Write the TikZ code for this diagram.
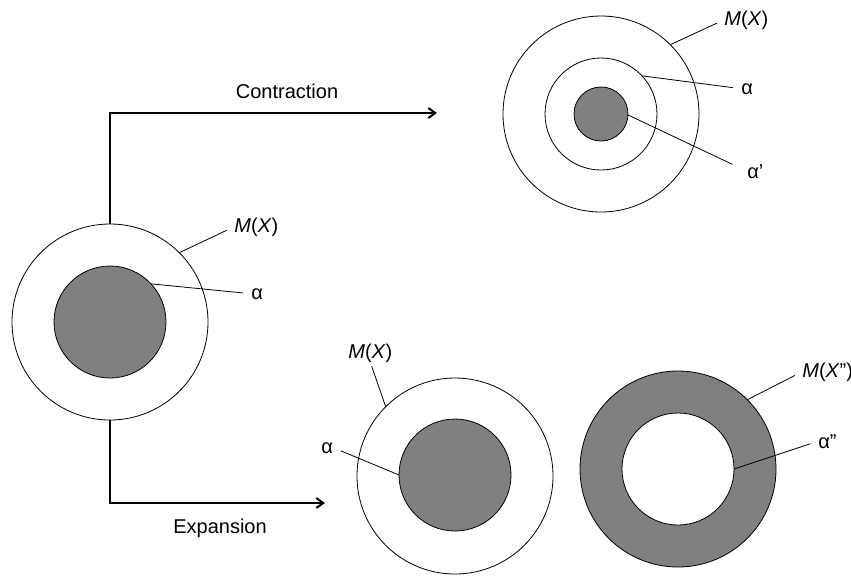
\documentclass[tikz,border=0pt]{standalone}
\usepackage{fontspec}
\setmainfont{Liberation Sans}
\usetikzlibrary{arrows.meta,positioning}

\begin{document}
\begin{tikzpicture}[x=0.5pt,y=-0.5pt,
	outer/.style={circle,draw,inner sep=0pt,outer sep=0pt,minimum size=98pt},
	mid/.style={circle,draw,inner sep=0pt,outer sep=0pt,minimum size=56pt},
	core/.style={circle,draw,fill=gray,inner sep=0pt,outer sep=0pt,minimum size=27pt},
	lbl/.style={inner sep=0pt,anchor=base west},
	lead/.style={shorten >=4pt},
	flow/.style={line width=1pt,-{Straight Barb[length=3.5pt,width=5pt]}}]
	\useasboundingbox (0,0) rectangle (851,575);
	
	% Starting set M(X) with alpha
	\node[outer] (lo) at (110,322) {};
	\node[mid,fill=gray] (li) at (110,322) {};
	\node[lbl] (lmx) at (234,232) {\textit{M}(\textit{X})};
	\node[lbl] (la) at (251,299) {α};
	\draw[lead] (lo.45) -- (lmx.west);
	\draw[lead] (li.43) -- (la.west);
	
	% Contraction
	\node[outer] (ro) at (601,114) {};
	\node[mid] (rm) at (601,114) {};
	\node[core] (rc) at (601,114) {};
	\node[lbl] (rmx) at (724,25) {\textit{M}(\textit{X})};
	\node[lbl] (ra) at (741,94) {α};
	\node[lbl] (ra1) at (747,178) {α'};
	\draw[lead] (ro.45) -- (rmx.west);
	\draw[lead] (rm.43) -- (ra.west);
	\draw[shorten >=8pt] (rc.-2) -- (ra1.west);
	
	% Expansion, alpha kept
	\node[outer] (mo) at (455,476) {};
	\node[mid,fill=gray] (mi) at (455,475) {};
	\node[lbl] (mmx) at (348,358) {\textit{M}(\textit{X})};
	\node[lbl] (ma) at (321,453) {α};
	\draw[shorten >=2pt] (mo.135) -- (mmx.south);
	\draw[lead] (mi.180) -- (ma.east);
	
	% Expansion, ring
	\node[outer,fill=gray] (go) at (678,469) {};
	\node[mid,fill=white] (gi) at (678,469) {};
	\node[lbl] (gmx) at (802,377) {\textit{M}(\textit{X}'')};
	\node[lbl] (ga) at (818,448) {α''};
	\draw[lead] (go.45) -- (gmx.west);
	\draw[lead] (gi.0) -- (ga.west);
	
	% Arrows and labels
	\coordinate (cend) at (437,113);
	\coordinate (eend) at (325,503);
	\draw[flow] (lo.north) |- (cend);
	\draw[flow] (lo.south) |- (eend);
	\node[inner sep=0pt] (ctext) at (287,91) {Contraction};
	\node[inner sep=0pt] (etext) at (220,528) {Expansion};
\end{tikzpicture}
\end{document}
